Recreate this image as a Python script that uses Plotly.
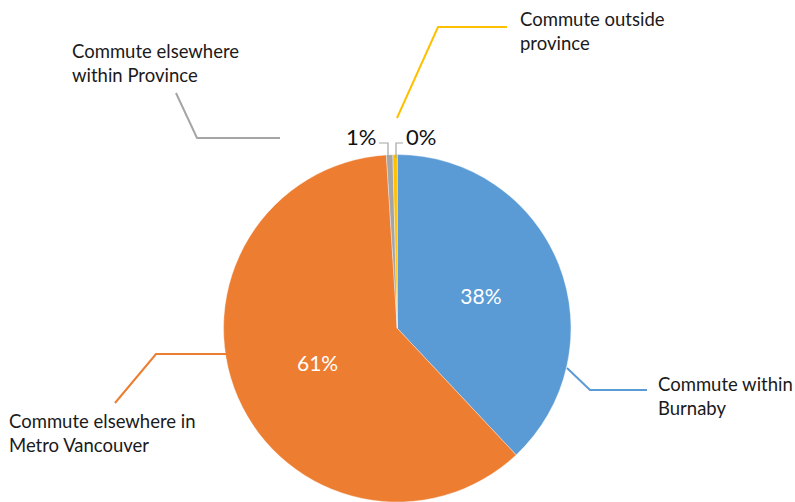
import plotly.graph_objects as go

# Commuting destinations (share of workers, %)
labels = [
    "Commute within Burnaby",
    "Commute elsewhere in Metro Vancouver",
    "Commute elsewhere within Province",
    "Commute outside province",
]
shares = [38, 61, 0.6, 0.4]
colors = ["#5B9BD5", "#ED7D31", "#A5A5A5", "#FFC000"]

W, H = 795, 502


def px(x, y):
    """Pixel position -> paper coordinates."""
    return x / W, 1 - y / H


fig = go.Figure(
    go.Pie(
        labels=labels,
        values=shares,
        sort=False,
        direction="clockwise",
        rotation=0,
        marker=dict(colors=colors, line=dict(color="rgba(255,255,255,0.6)", width=0.6)),
        texttemplate=[f"{v:.0f}%" for v in shares],
        textposition=["inside", "inside", "none", "none"],
        insidetextfont=dict(family="Lato", size=21, color="white"),
        insidetextorientation="horizontal",
        showlegend=False,
        hoverinfo="label+percent",
        domain=dict(x=[223.5 / W, 571 / W], y=[0, 0.692]),
    )
)

shapes = []
annotations = []

# Callout: leader path (pixel points), label text, text anchor point, colour
callouts = [
    ([(397, 118), (438, 27), (507, 27)], "Commute outside<br>province", (518, 31.5), colors[3]),
    ([(176, 93), (197, 138), (280, 138)], "Commute elsewhere<br>within Province", (70, 62.5), colors[2]),
    ([(227, 354), (156, 354), (115, 403)], "Commute elsewhere in<br>Metro Vancouver", (7, 432.5), colors[1]),
    ([(567, 368), (590, 390), (647, 390)], "Commute within<br>Burnaby", (656, 395.5), colors[0]),
]
for pts, text, (tx, ty), col in callouts:
    path = "M " + " L ".join(f"{px(x, y)[0]:.5f},{px(x, y)[1]:.5f}" for x, y in pts)
    shapes.append(dict(type="path", path=path, xref="paper", yref="paper",
                       line=dict(color=col, width=2)))
    ax, ay = px(tx, ty)
    annotations.append(dict(x=ax, y=ay, xref="paper", yref="paper", text=text,
                            showarrow=False, xanchor="left", yanchor="middle", align="left",
                            font=dict(family="Lato", size=18.5, color="#1a1a1a")))

# Outside percentage labels for the two thin slices, with small bracket leaders
small_labels = [(shares[2], (361, 136)), (shares[3], (421, 136))]
for v, (tx, ty) in small_labels:
    ax, ay = px(tx, ty)
    annotations.append(dict(x=ax, y=ay, xref="paper", yref="paper", text=f"{v:.0f}%",
                            showarrow=False, xanchor="center", yanchor="middle",
                            font=dict(family="Lato", size=22, color="#111111")))

for pts in ([(379, 143), (388, 143), (388, 158)], [(396, 158), (396, 143), (403, 143)]):
    path = "M " + " L ".join(f"{px(x, y)[0]:.5f},{px(x, y)[1]:.5f}" for x, y in pts)
    shapes.append(dict(type="path", path=path, xref="paper", yref="paper",
                       line=dict(color="#A5A5A5", width=1.2)))

fig.update_layout(
    width=W,
    height=H,
    margin=dict(l=0, r=0, t=0, b=0),
    paper_bgcolor="white",
    plot_bgcolor="white",
    shapes=shapes,
    annotations=annotations,
)

fig.write_html("out.html")
